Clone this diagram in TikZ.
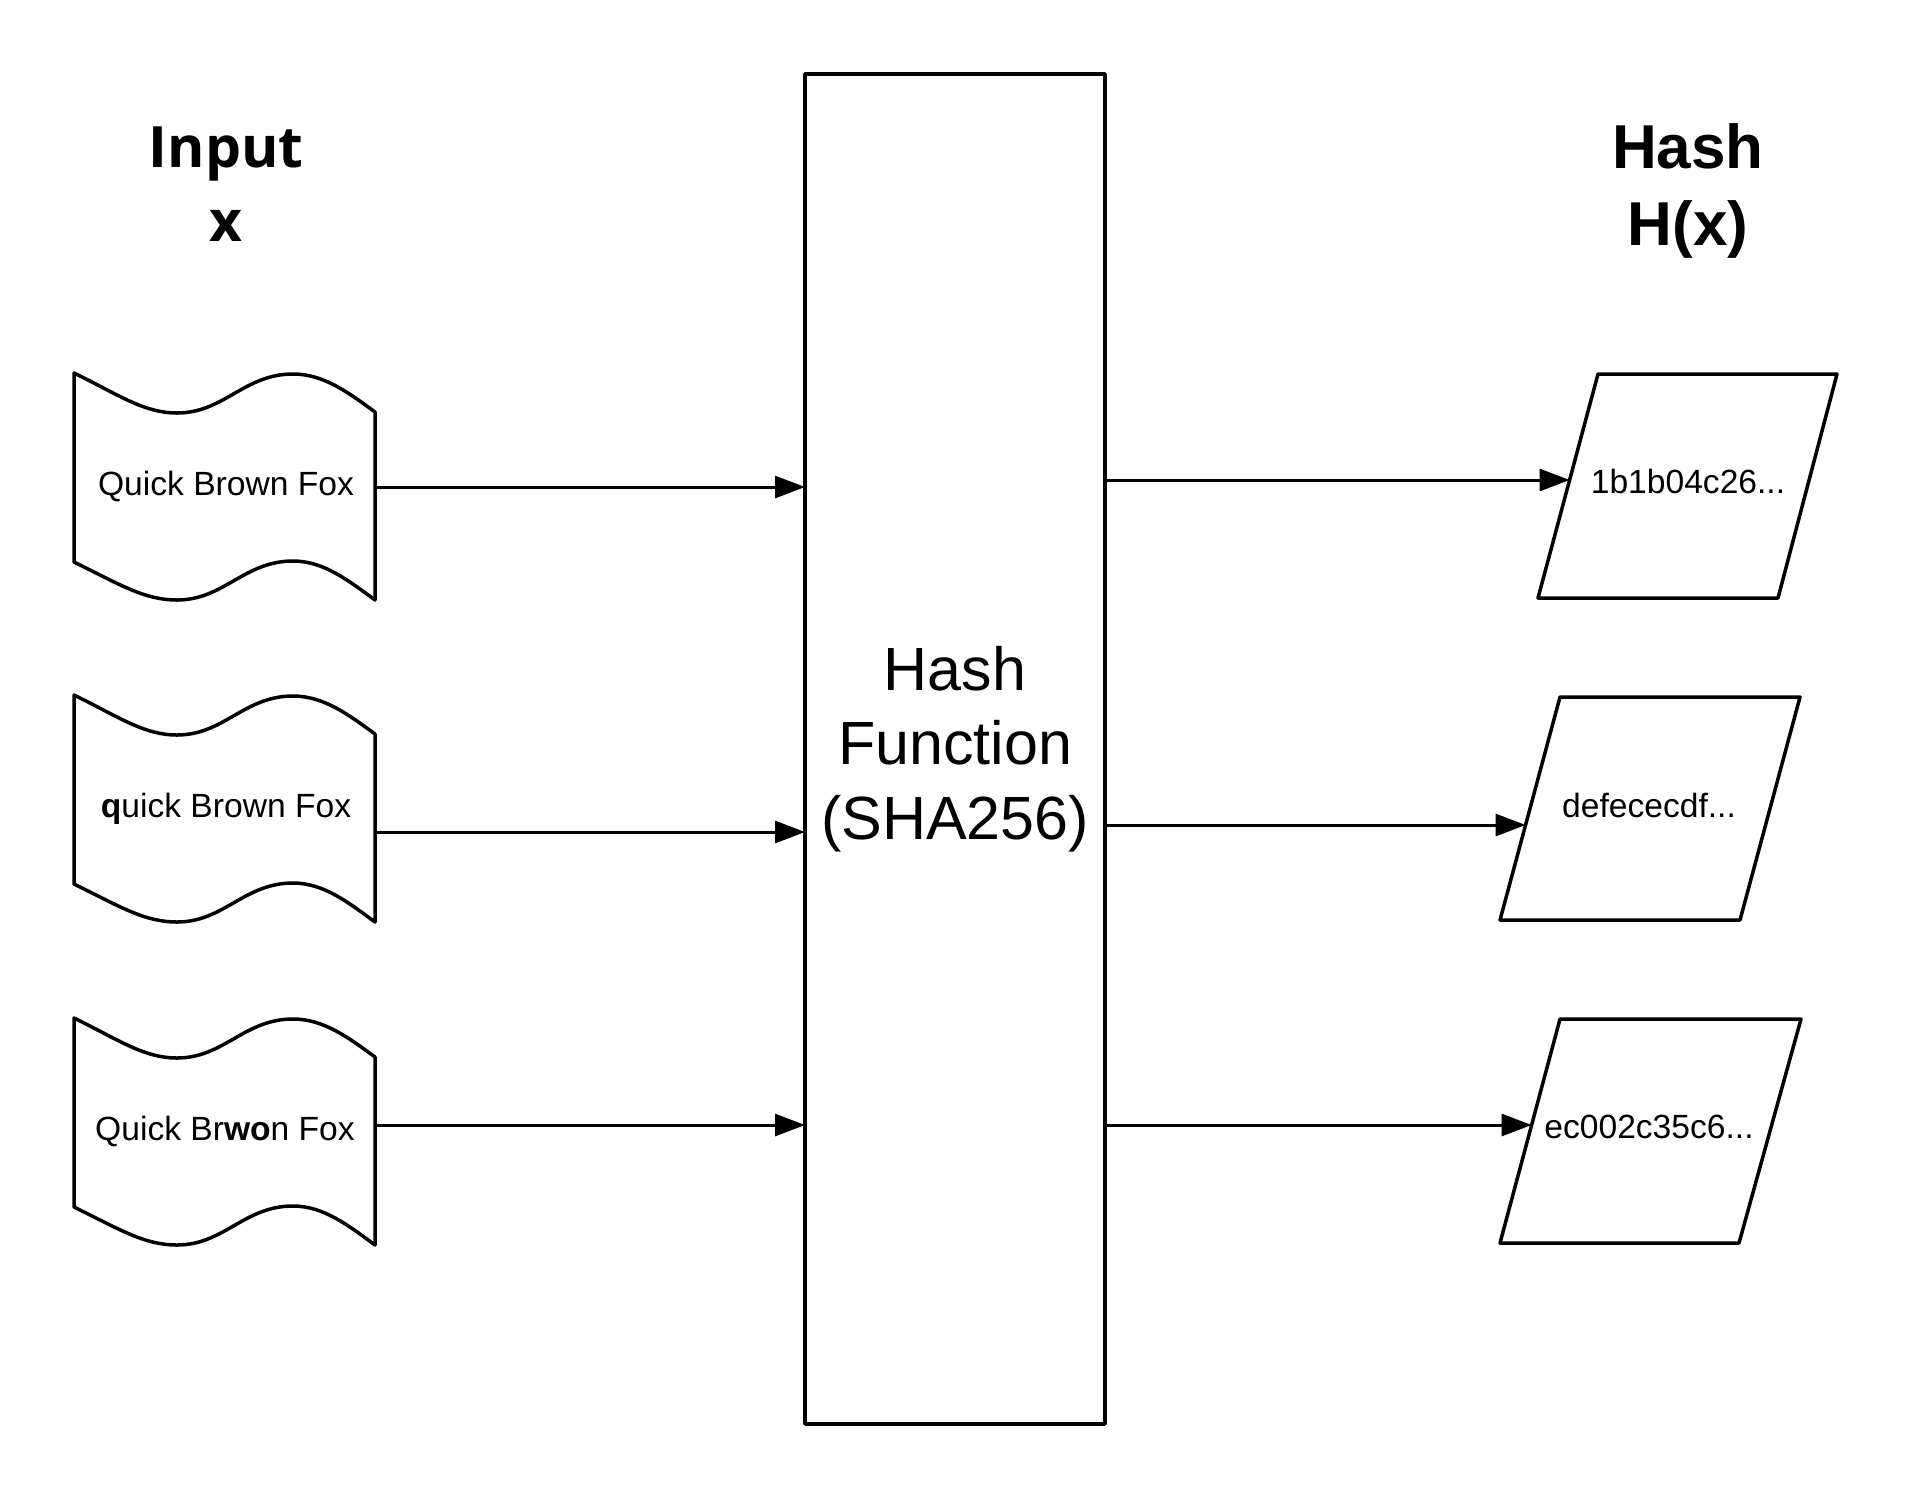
\documentclass[tikz,border=0pt]{standalone}
\usepackage{fontspec}
\setmainfont{Liberation Sans}
\newfontfamily\titlefont{Open Sans}
\usetikzlibrary{arrows.meta}
\tikzset{
  outline/.style={draw=black, line width=3.5pt, line join=round},
  arr/.style={draw=black, line width=3pt, -{Triangle[length=30pt,width=22pt]}},
  lbl/.style={inner sep=0pt, anchor=base, font=\fontsize{33.6}{40}\selectfont},
  pics/wavy/.style={code={
    \draw[outline] (0,0) .. controls (45,22) and (70,40) .. (103,40)
      .. controls (150,40) and (170,1) .. (219,1)
      .. controls (250,1) and (275,20) .. (301,39)
      -- (301,227)
      .. controls (275,208) and (250,188) .. (219,188)
      .. controls (170,188) and (150,227) .. (103,227)
      .. controls (70,227) and (45,211) .. (0,189) -- cycle;
  }}
}
\begin{document}
\begin{tikzpicture}[x=1pt,y=-1pt]
\useasboundingbox[fill=white] (0,0) rectangle (1913,1500);

% titles
\node[align=center, inner sep=0pt, font=\titlefont\bfseries\fontsize{57}{74}\selectfont] (tin) at (226,184.5) {Input\\x};
\node[align=center, inner sep=0pt, font=\bfseries\fontsize{62}{77}\selectfont] (thash) at (1688,191) {Hash\\H(x)};

% hash function box
\node[outline, minimum width=300pt, minimum height=1350pt, inner sep=0pt, outer sep=0pt,
      align=center, font=\fontsize{61}{74.5}\selectfont] (hf) at (955,749) {Hash\\Function\\(SHA256)};

% inputs
\pic at (74,373) {wavy};
\pic at (74,695) {wavy};
\pic at (74,1018) {wavy};
\node[lbl] (in1) at (226,495) {Quick Brown Fox};
\node[lbl] (in2) at (226,817) {\textbf{q}uick Brown Fox};
\node[lbl] (in3) at (225,1140) {Quick Br\textbf{wo}n Fox};
\coordinate (w1) at (375,487);
\coordinate (w2) at (375,832);
\coordinate (w3) at (375,1125);

% outputs
\draw[outline] (1598,374) -- (1837,374) -- (1778,598) -- (1538,598) -- cycle;
\draw[outline] (1560,697) -- (1800,697) -- (1740,920) -- (1500,920) -- cycle;
\draw[outline] (1560,1019) -- (1801,1019) -- (1739,1243) -- (1500,1243) -- cycle;
\node[lbl] (out1) at (1688,493) {1b1b04c26...};
\node[lbl] (out2) at (1649,817) {defececdf...};
\node[lbl] (out3) at (1649,1138) {ec002c35c6...};
\coordinate (p1) at (1569.6,480);
\coordinate (p2) at (1525.6,825);
\coordinate (p3) at (1531.6,1125);

% connectors
\draw[arr] (w1) -- (w1 -| hf.west);
\draw[arr] (w2) -- (w2 -| hf.west);
\draw[arr] (w3) -- (w3 -| hf.west);
\draw[arr] (hf.east |- p1) -- (p1);
\draw[arr] (hf.east |- p2) -- (p2);
\draw[arr] (hf.east |- p3) -- (p3);
\end{tikzpicture}
\end{document}
